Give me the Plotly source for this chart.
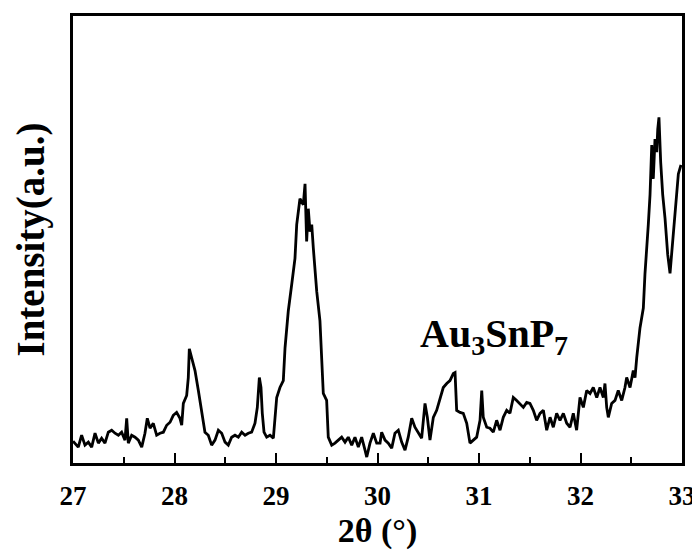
import plotly.graph_objects as go

two_theta = [
    27.000, 27.020, 27.052, 27.085, 27.118, 27.151, 27.184, 27.217, 27.250, 27.282,
    27.315, 27.348, 27.381, 27.414, 27.447, 27.479, 27.512, 27.529, 27.545, 27.578,
    27.611, 27.644, 27.677, 27.709, 27.732, 27.759, 27.791, 27.824, 27.857, 27.890,
    27.923, 27.956, 27.988, 28.021, 28.054, 28.071, 28.087, 28.120, 28.136, 28.146,
    28.169, 28.202, 28.235, 28.268, 28.300, 28.333, 28.366, 28.399, 28.432, 28.465,
    28.498, 28.530, 28.563, 28.596, 28.629, 28.662, 28.695, 28.727, 28.760, 28.793,
    28.816, 28.836, 28.852, 28.865, 28.882, 28.908, 28.941, 28.974, 29.007, 29.039,
    29.072, 29.089, 29.121, 29.155, 29.187, 29.204, 29.236, 29.269, 29.286, 29.302,
    29.318, 29.335, 29.352, 29.368, 29.401, 29.433, 29.466, 29.499, 29.515, 29.549,
    29.581, 29.614, 29.647, 29.680, 29.712, 29.746, 29.778, 29.811, 29.844, 29.877,
    29.894, 29.926, 29.959, 29.992, 30.025, 30.041, 30.074, 30.106, 30.140, 30.172,
    30.205, 30.238, 30.271, 30.303, 30.337, 30.369, 30.402, 30.435, 30.468, 30.491,
    30.517, 30.550, 30.583, 30.616, 30.648, 30.682, 30.714, 30.747, 30.764, 30.780,
    30.813, 30.845, 30.879, 30.911, 30.944, 30.977, 31.010, 31.027, 31.042, 31.076,
    31.108, 31.141, 31.174, 31.207, 31.239, 31.273, 31.305, 31.338, 31.371, 31.404,
    31.437, 31.470, 31.502, 31.535, 31.568, 31.601, 31.634, 31.667, 31.700, 31.732,
    31.765, 31.798, 31.831, 31.864, 31.897, 31.929, 31.962, 31.995, 32.028, 32.061,
    32.094, 32.126, 32.160, 32.192, 32.225, 32.241, 32.258, 32.274, 32.307, 32.340,
    32.372, 32.406, 32.438, 32.455, 32.488, 32.520, 32.537, 32.554, 32.586, 32.619,
    32.635, 32.668, 32.685, 32.702, 32.717, 32.734, 32.751, 32.761, 32.773, 32.790,
    32.810, 32.833, 32.859, 32.882, 32.898, 32.921, 32.948, 32.964, 32.990,
]

intensity = [
    22, 20, 16, 28, 18, 21, 16, 30, 20, 25,
    20, 31, 33, 30, 28, 31, 23, 45, 20, 28,
    26, 23, 16, 30, 45, 35, 40, 28, 30, 31,
    38, 41, 48, 51, 45, 38, 60, 68, 86, 115,
    105, 93, 73, 50, 31, 28, 18, 23, 33, 30,
    21, 18, 26, 28, 26, 31, 28, 30, 31, 40,
    56, 86, 76, 50, 31, 26, 28, 25, 66, 76,
    83, 116, 153, 180, 206, 240, 266, 260, 281, 223,
    256, 233, 240, 216, 173, 143, 70, 63, 26, 18,
    20, 23, 26, 21, 26, 18, 26, 16, 26, 13,
    6, 20, 30, 20, 20, 31, 23, 20, 15, 30,
    33, 21, 13, 26, 45, 36, 31, 25, 60, 46,
    23, 46, 53, 66, 76, 80, 83, 90, 91, 53,
    51, 50, 40, 20, 23, 26, 43, 73, 46, 36,
    35, 31, 43, 33, 46, 53, 50, 66, 63, 60,
    56, 61, 60, 53, 43, 50, 53, 33, 46, 36,
    50, 43, 50, 40, 36, 50, 33, 66, 56, 73,
    70, 76, 66, 76, 66, 80, 56, 46, 60, 63,
    73, 63, 76, 86, 76, 93, 86, 106, 136, 156,
    190, 240, 270, 320, 286, 326, 313, 336, 348, 303,
    270, 246, 210, 191, 210, 236, 266, 291, 300,
]

x_ticks = [27, 28, 29, 30, 31, 32, 33]
annotation_text = "Au<sub>3</sub>SnP<sub>7</sub>"

FONT = "Liberation Serif, Times New Roman, serif"

fig = go.Figure()
fig.add_trace(go.Scatter(
    x=two_theta, y=intensity, mode="lines",
    line=dict(color="black", width=2.8),
    showlegend=False, hoverinfo="skip",
))

fig.add_annotation(
    x=30.40, y=128, xref="x", yref="y",
    text=annotation_text, showarrow=False,
    xanchor="left", yanchor="middle",
    font=dict(family=FONT, size=40, color="black", weight="bold"),
)

fig.update_layout(
    width=700, height=552,
    margin=dict(l=65, r=26, t=5, b=97),
    paper_bgcolor="white", plot_bgcolor="white",
    font=dict(family=FONT, color="black"),
)

fig.update_xaxes(
    range=[27, 33],
    tickvals=x_ticks, ticktext=[str(v) for v in x_ticks],
    ticks="inside", ticklen=10, tickwidth=2, tickcolor="black",
    minor=dict(dtick=0.5, ticks="inside", ticklen=6, tickwidth=2, tickcolor="black"),
    showline=True, linecolor="black", linewidth=2.5, mirror=True,
    showgrid=False, zeroline=False,
    ticklabelstandoff=7,
    tickfont=dict(family=FONT, size=27, color="black", weight="bold"),
    title=dict(text="2θ (°)", font=dict(family=FONT, size=34, color="black", weight="bold"), standoff=9),
)

fig.update_yaxes(
    range=[0, 450],
    showticklabels=False, ticks="",
    showline=True, linecolor="black", linewidth=2.5, mirror=True,
    showgrid=False, zeroline=False,
    title=dict(text="Intensity(a.u.)", font=dict(family=FONT, size=39, color="black", weight="bold"), standoff=14),
)

fig.write_html("out.html")
